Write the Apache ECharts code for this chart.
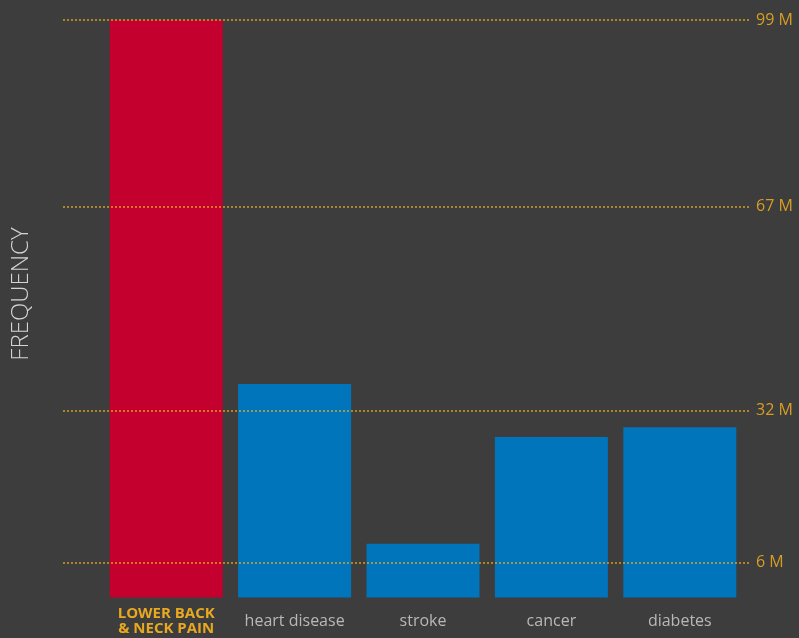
<!DOCTYPE html>
<html>
<head>
<meta charset="utf-8">
<script src="https://cdn.jsdelivr.net/npm/echarts@6/dist/echarts.min.js"></script>
<style>
html,body{margin:0;padding:0;background:#3d3d3d;}
#chart{width:799px;height:638px;}
</style>
</head>
<body>
<div id="chart"></div>
<script>
const categories = ['LOWER BACK & NECK PAIN', 'heart disease', 'stroke', 'cancer', 'diabetes'];
const values = [99, 36.6, 9.2, 27.5, 29.2];
const refValues = [99, 67, 32, 6];
const refLabels = ['99 M', '67 M', '32 M', '6 M'];
const yTitle = 'FREQUENCY';

const chart = echarts.init(document.getElementById('chart'));
const FONT = '"Open Sans", "Noto Sans", sans-serif';

chart.setOption({
  backgroundColor: '#3d3d3d',
  animation: false,
  grid: [
    { left: 102, right: 55, top: 20, bottom: 40.5 },
    { left: 63, right: 49, top: 20, bottom: 40.5 }
  ],
  xAxis: [
    {
      gridIndex: 0, type: 'category', data: categories,
      axisLine: { show: false }, axisTick: { show: false },
      axisLabel: {
        interval: 0, margin: 9, fontFamily: FONT, fontSize: 16, color: '#b8b8b8',
        formatter: function (v, i) {
          if (i === 0) return '{hl|LOWER BACK}\n{hl|& NECK PAIN}';
          return '{n|' + v + '}';
        },
        rich: {
          hl: { fontFamily: FONT, fontSize: 15, fontWeight: 'bold', color: '#e8a820', lineHeight: 15 },
          n: { fontFamily: FONT, fontSize: 16, color: '#b8b8b8', lineHeight: 30 }
        }
      }
    },
    { gridIndex: 1, type: 'value', min: 0, max: 1, show: false }
  ],
  yAxis: [
    { gridIndex: 0, type: 'value', min: 0, max: 99, show: false, splitLine: { show: false } },
    { gridIndex: 1, type: 'value', min: 0, max: 99, show: false, splitLine: { show: false } }
  ],
  series: [
    {
      type: 'bar', xAxisIndex: 0, yAxisIndex: 0,
      barCategoryGap: '12%',
      data: values.map(function (v, i) {
        return { value: v, itemStyle: { color: i === 0 ? '#c4002f' : '#0075bc' } };
      }),
      z: 2
    },
    {
      type: 'scatter', xAxisIndex: 1, yAxisIndex: 1, data: [], z: 5,
      markLine: {
        silent: true, symbol: 'none', animation: false,
        lineStyle: { color: '#e8a820', type: [2, 2], width: 1.5, opacity: 0.9 },
        label: {
          position: 'end', distance: 6, fontFamily: FONT, fontSize: 16, color: '#e8a820',
          formatter: function (p) { return refLabels[p.dataIndex]; }
        },
        data: refValues.map(function (v) { return { yAxis: v }; })
      }
    }
  ],
  graphic: [
    {
      type: 'text', x: 21, y: 294, rotation: Math.PI / 2,
      style: {
        text: yTitle, fill: '#d4d4d4', font: '300 24px "Open Sans", "Noto Sans", sans-serif',
        textAlign: 'center', textVerticalAlign: 'middle'
      }
    }
  ]
});
</script>
</body>
</html>
